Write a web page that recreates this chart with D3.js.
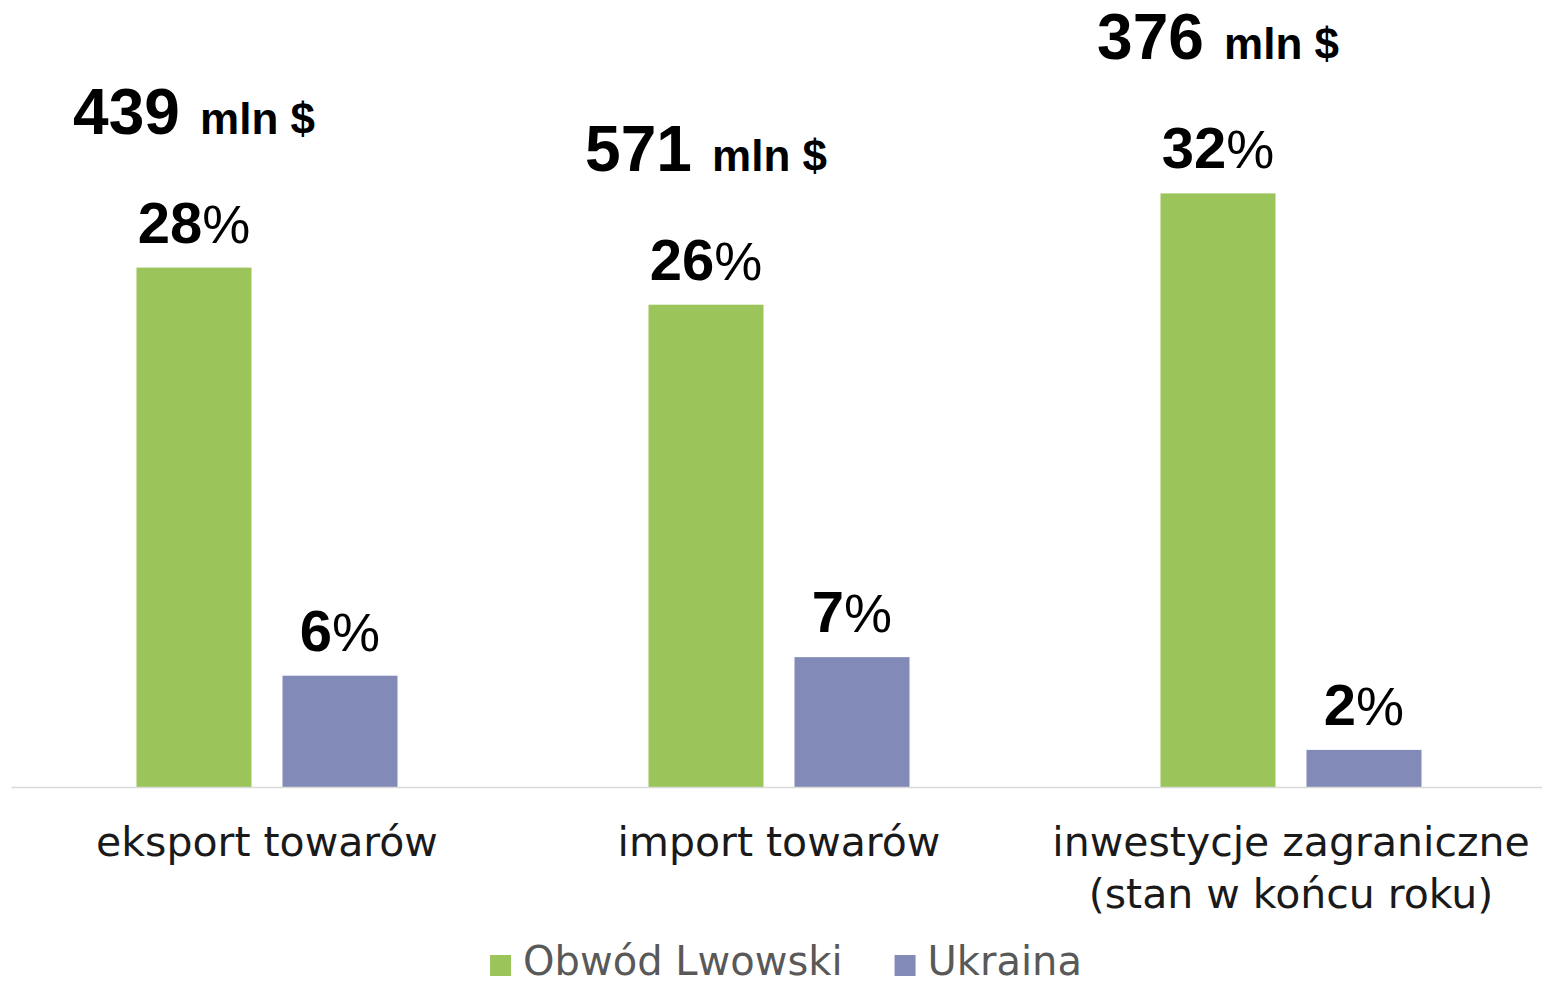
<!DOCTYPE html>
<html>
<head>
<meta charset="utf-8">
<script src="https://cdn.jsdelivr.net/npm/d3@7"></script>
<style>
	body { margin: 0; background: #fff; }
	svg { display: block; }
</style>
</head>
<body>
<div id="chart"></div>
<script>

// chart values
const categories = ["eksport towarów", "import towarów", "inwestycje zagraniczne"];
const categoryLines = [["eksport towarów"], ["import towarów"], ["inwestycje zagraniczne", "(stan w końcu roku)"]];
const series = ["Obwód Lwowski", "Ukraina"];
const lwowskiShare = [28, 26, 32];
const ukrainaShare = [6, 7, 2];
const totalsMln = [439, 571, 376];

const colors = { "Obwód Lwowski": "#9bc45a", "Ukraina": "#828bb8" };

const width = 1542, height = 986;
const margin = { top: 45, right: -5, bottom: 199, left: 11 };

const numFont = "'Liberation Sans', Arial, sans-serif";
const textFont = "'Century Gothic', 'DejaVu Sans', sans-serif";

const svg = d3.select('#chart').append('svg')
	.attr('width', width)
	.attr('height', height);

const x0 = d3.scaleBand()
	.domain(categories)
	.range([margin.left, width - margin.right])
	.paddingInner(0)
	.paddingOuter(0);

const x1 = d3.scaleBand()
	.domain(series)
	.range([0, x0.bandwidth()])
	.paddingInner(0.2123)
	.paddingOuter(0.8596);

const y = d3.scaleLinear()
	.domain([0, 40])
	.range([height - margin.bottom, margin.top]);

// rows: one per bar
const rows = [];
categories.forEach((c, i) => {
	rows.push({ cat: c, ser: series[0], value: lwowskiShare[i] });
	rows.push({ cat: c, ser: series[1], value: ukrainaShare[i] });
});

// bars
svg.append('g')
	.selectAll('rect')
	.data(rows)
	.join('rect')
	.attr('x', d => x0(d.cat) + x1(d.ser))
	.attr('y', d => y(d.value))
	.attr('width', x1.bandwidth())
	.attr('height', d => y(0) - y(d.value))
	.attr('fill', d => colors[d.ser]);

// baseline axis
const xAxis = d3.axisBottom(x0).tickSize(0).tickFormat('');
const axisG = svg.append('g')
	.attr('transform', `translate(0, ${y(0)})`)
	.call(xAxis);
axisG.select('.domain').attr('stroke', '#d9d9d9').attr('stroke-width', 1.5);

// category labels
const catLabels = svg.append('g')
	.selectAll('text')
	.data(categories)
	.join('text')
	.attr('text-anchor', 'middle')
	.attr('font-family', textFont)
	.attr('font-size', 41)
	.attr('fill', '#1a1a1a')
	.attr('x', d => x0(d) + x0.bandwidth() / 2)
	.attr('y', y(0) + 69);

catLabels.selectAll('tspan')
	.data((d, i) => categoryLines[i])
	.join('tspan')
	.attr('x', function () { return d3.select(this.parentNode).attr('x'); })
	.attr('dy', (d, i) => i === 0 ? 0 : 52)
	.text(d => d);

// percent labels
const pct = svg.append('g')
	.selectAll('text')
	.data(rows)
	.join('text')
	.attr('text-anchor', 'middle')
	.attr('font-family', numFont)
	.attr('font-weight', 'bold')
	.attr('font-size', 58)
	.attr('fill', '#000')
	.attr('x', d => x0(d.cat) + x1(d.ser) + x1.bandwidth() / 2)
	.attr('y', d => y(d.value) - 25);
pct.append('tspan').text(d => d.value);
pct.append('tspan').attr('font-weight', 'normal').attr('font-size', 54).text('%');

// totals in mln $ above the Lwowski bars
const tot = svg.append('g')
	.selectAll('text')
	.data(categories)
	.join('text')
	.attr('text-anchor', 'middle')
	.attr('font-family', numFont)
	.attr('font-weight', 'bold')
	.attr('fill', '#000')
	.attr('x', d => x0(d) + x1(series[0]) + x1.bandwidth() / 2)
	.attr('y', (d, i) => y(lwowskiShare[i]) - 134);
tot.append('tspan').attr('font-size', 64).text((d, i) => totalsMln[i]);
tot.append('tspan').attr('font-size', 44).attr('dx', 8).text(' mln $');

// legend
const legend = svg.append('g').attr('transform', `translate(0, ${height - 11})`);
const items = legend.selectAll('g')
	.data(series)
	.join('g');
items.append('rect')
	.attr('width', 21)
	.attr('height', 21)
	.attr('y', -20)
	.attr('fill', d => colors[d]);
items.append('text')
	.attr('x', 33)
	.attr('font-family', textFont)
	.attr('font-size', 40)
	.attr('fill', '#595959')
	.text(d => d);

// lay out legend items centred
let offsets = [], cursor = 0;
items.each(function () {
	offsets.push(cursor);
	cursor += 33 + d3.select(this).select('text').node().getComputedTextLength() + 52;
});
const legendWidth = cursor - 52;
const legendStart = 786 - legendWidth / 2;
items.attr('transform', (d, i) => `translate(${legendStart + offsets[i]}, 0)`);

</script>
</body>
</html>
